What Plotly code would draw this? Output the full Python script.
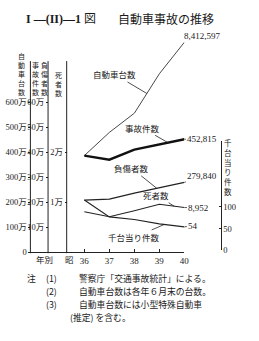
import numpy as np
import plotly.graph_objects as go

# ---------------- data ----------------
years = [36, 37, 38, 39, 40]
vehicles = [3870000, 4800000, 5570000, 7150000, 8412597]     # 自動車台数
accidents = [387000, 371000, 411000, 431000, 452815]         # 事故件数
injured = [209000, 213000, 237000, 258000, 279840]           # 負傷者数
deaths = [8100, 7100, 8300, 9600, 8952]                      # 死者数
per_thousand = [116, 77, 71, 61, 54]                         # 千台当り件数

veh_ticks = [0, 1e6, 2e6, 3e6, 4e6, 5e6, 6e6]
veh_ticktext = ["0", "100万", "200万", "300万", "400万", "500万", "600万"]
acc_ticks = [1e5, 2e5, 3e5, 4e5, 5e5, 6e5]
acc_ticktext = ["10万", "20万", "30万", "40万", "50万", "60万"]
death_ticks = [1e4, 2e4]
death_ticktext = ["1万", "2万"]
ratio_ticks = [0, 50, 100]
ratio_ticktext = ["0", "50", "100"]
year_ticktext = ["36", "37", "38", "39", "40"]

# ---------------- layout helpers ----------------
W, H = 259, 341
def fx(px):
    return px / W
def fy(py):
    return (H - py) / H

FONT = "Liberation Serif, Noto Sans CJK JP"
JFONT = "Noto Sans CJK JP, Liberation Serif"

Y_BOT, Y_TOP = 256, 30
PX_PER_MILLION = 25.333
veh_max = (Y_BOT - Y_TOP) / PX_PER_MILLION * 1e6
acc_max = veh_max / 10
death_max = veh_max / 200
R_BOT, R_TOP = 254, 143
ratio_max = (R_BOT - R_TOP) / 0.44

X0_PX, X36_PX, X40_PX = 30, 86, 188
px_per_year = (X40_PX - X36_PX) / 4
x_lo = 36 - (X36_PX - X0_PX) / px_per_year

fig = go.Figure()
common = dict(mode="lines", hoverinfo="skip", showlegend=False)
fig.add_trace(go.Scatter(x=years, y=vehicles, yaxis="y", line=dict(color="#333", width=0.9), **common))
fig.add_trace(go.Scatter(x=years, y=accidents, yaxis="y2", line=dict(color="#111", width=2.4), **common))
fig.add_trace(go.Scatter(x=years, y=injured, yaxis="y2", line=dict(color="#222", width=1.3), **common))
fig.add_trace(go.Scatter(x=years, y=deaths, yaxis="y3", line=dict(color="#222", width=1.1), **common))
fig.add_trace(go.Scatter(x=years, y=per_thousand, yaxis="y4", line=dict(color="#222", width=1.1), **common))

tickfont = dict(family=FONT, size=8.5, color="#222")
ydom = [fy(Y_BOT), fy(Y_TOP)]
fig.update_layout(
    width=W, height=H, autosize=False,
    margin=dict(l=0, r=0, t=0, b=0),
    paper_bgcolor="white", plot_bgcolor="rgba(0,0,0,0)",
    xaxis=dict(domain=[fx(X0_PX), fx(X40_PX)], range=[x_lo, 40], anchor="y",
               tickvals=years, ticktext=year_ticktext, ticks="inside", ticklen=3,
               tickcolor="#222", showline=True, linecolor="#222", linewidth=1,
               showgrid=False, zeroline=False, tickfont=dict(family=FONT, size=9, color="#222")),
    yaxis=dict(domain=ydom, range=[0, veh_max], anchor="free", position=fx(31),
               tickvals=veh_ticks, ticktext=veh_ticktext, ticks="outside", ticklen=2,
               tickcolor="#222", showline=False, showgrid=False, zeroline=False, tickfont=tickfont),
    yaxis2=dict(range=[0, acc_max], overlaying="y", anchor="free", position=fx(49),
                tickvals=acc_ticks, ticktext=acc_ticktext, ticks="outside", ticklen=2,
                tickcolor="#222", showline=False, showgrid=False, zeroline=False, tickfont=tickfont),
    yaxis3=dict(range=[0, death_max], overlaying="y", anchor="free", position=fx(68),
                tickvals=death_ticks, ticktext=death_ticktext, ticks="outside", ticklen=2,
                tickcolor="#222", showline=False, showgrid=False, zeroline=False, tickfont=tickfont),
    yaxis4=dict(domain=[fy(R_BOT), fy(R_TOP)], range=[0, ratio_max], anchor="free",
                position=fx(225), side="right",
                tickvals=ratio_ticks, ticktext=ratio_ticktext, ticks="inside", ticklen=2,
                tickcolor="#222", showline=True, linecolor="#222", linewidth=1,
                showgrid=False, zeroline=False, tickfont=tickfont),
)

# vertical axis / column lines on the left
shapes = []
for px in (31, 49, 68):
    shapes.append(dict(type="line", xref="paper", yref="paper",
                       x0=fx(px), x1=fx(px), y0=fy(62), y1=fy(257),
                       line=dict(color="#222", width=1)))
fig.update_layout(shapes=shapes)

ann = []
def text(px, py, s, size=9, family=FONT, xanchor="center", yanchor="middle"):
    ann.append(dict(xref="paper", yref="paper", x=fx(px), y=fy(py), text=s,
                    showarrow=False, xanchor=xanchor, yanchor=yanchor, borderpad=0,
                    font=dict(family=family, size=size, color="#1a1a1a")))

def vtext(px, py, s, size=7):
    text(px, py, "<br>".join(list(s)), size=size, family=JFONT)

# title
text(26, 19, "<b>I —(II)—1</b> 図", size=12, family="Liberation Serif, Noto Sans CJK JP", xanchor="left")
text(119, 19, "自動車事故の推移", size=12, family=JFONT, xanchor="left")

# headers
vtext(22, 75, "自動車台数")
vtext(36, 80, "事故件数")
vtext(45, 80, "負傷者数")
vtext(60, 85, "死者数")
vtext(232, 169, "千台当り件数", size=7.5)

# bottom row labels
text(45, 263, "年別", size=8.5, family=JFONT)
text(71, 263, "昭", size=8.5, family=JFONT)

# notes
nsize = 8.8
text(27, 283, "注", size=nsize, family=JFONT, xanchor="left")
text(46, 283, "(1)", size=nsize, family=JFONT, xanchor="left")
text(80, 283, "警察庁「交通事故統計」による。", size=nsize, family=JFONT, xanchor="left")
text(46, 296, "(2)", size=nsize, family=JFONT, xanchor="left")
text(80, 296, "自動車台数は各年６月末の台数。", size=nsize, family=JFONT, xanchor="left")
text(46, 309, "(3)", size=nsize, family=JFONT, xanchor="left")
text(80, 309, "自動車台数には小型特殊自動車", size=nsize, family=JFONT, xanchor="left")
text(70, 322, "(推定) を含む。", size=nsize, family=JFONT, xanchor="left")

# labels with leader lines pointing at the series
def leader(xval, series, yref, s, ax, ay, size=8.5, family=JFONT):
    yval = float(np.interp(xval, years, series))
    ann.append(dict(xref="x", yref=yref, x=xval, y=yval, text=s, showarrow=True,
                    arrowhead=0, arrowwidth=0.8, arrowcolor="#222", ax=ax, ay=ay,
                    standoff=0, font=dict(family=family, size=size, color="#1a1a1a")))

leader(38.5, vehicles, "y", "自動車台数", -32, -19)
leader(39.35, accidents, "y2", "事故件数", -26, -15)
leader(38.9, injured, "y2", "負傷者数", -25, -20)
leader(39.6, deaths, "y3", "死者数", -18, -11)
leader(39.2, per_thousand, "y4", "千台当り件数", -30, 13)

# end-value labels
ann.append(dict(xref="x", yref="y", x=40, y=vehicles[-1], text="8,412,597", showarrow=False,
                xshift=18, yshift=6, font=dict(family=FONT, size=9, color="#1a1a1a")))
leader(40, accidents, "y2", "452,815", 18, 0, size=9, family=FONT)
leader(40, injured, "y2", "279,840", 18, -6, size=9, family=FONT)
leader(40, deaths, "y3", "8,952", 14, 0, size=9, family=FONT)
leader(40, per_thousand, "y4", "54", 9, -1, size=9, family=FONT)

fig.update_layout(annotations=ann)
fig.write_html("out.html")
